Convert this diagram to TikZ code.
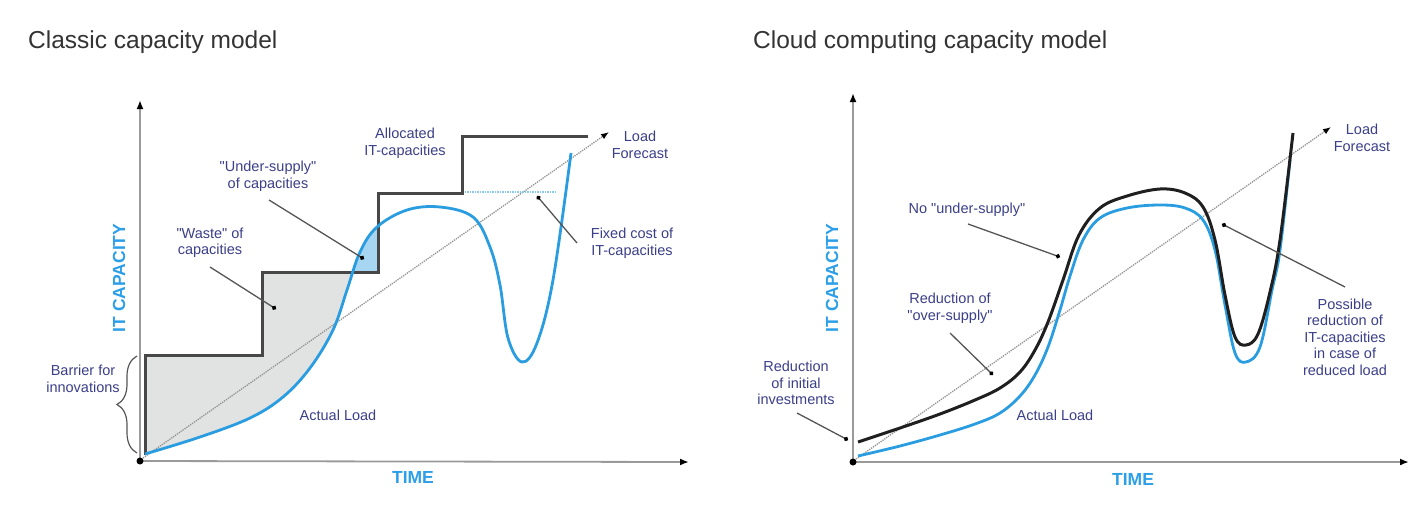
\documentclass[tikz,border=0pt]{standalone}
\usepackage{fontspec}
\setmainfont{Liberation Sans}[Ligatures=TeXOff]
\usetikzlibrary{arrows.meta,decorations.pathreplacing}

\definecolor{ink}{HTML}{3B3F88}
\definecolor{loadblue}{HTML}{2A9DE0}
\definecolor{axisblue}{HTML}{2C9FE8}
\definecolor{wastegray}{HTML}{E1E3E3}
\definecolor{shortblue}{HTML}{A6D6F2}
\definecolor{titlegray}{HTML}{333333}
\definecolor{leadergray}{HTML}{555555}
\definecolor{axisgray}{HTML}{9A9A9A}
\definecolor{stepgray}{HTML}{474747}

% actual load, classic model
\newcommand\loadclassic{plot[smooth,tension=0.6] coordinates {(145,454) (200,437) (250,418) (283,397) (310,368) (333,330) (347,290) (360,252) (377,227) (407,210) (440,207) (473,217) (490,247) (500,285) (508,338) (522,362) (537,343) (553,280) (571,153)}}
% allocated capacity, cloud model
\newcommand\cloudcap{plot[smooth,tension=0.6] coordinates {(858,442) (900,428) (940,414) (975,400) (1000,388) (1020,372) (1035,350) (1048,322) (1063,280) (1079,235) (1100,208) (1127,196) (1160,189) (1185,193) (1203,207) (1215,240) (1225,295) (1235,337) (1246,345) (1258,334) (1270,292) (1280,240) (1293,133)}}
% actual load, cloud model
\newcommand\cloudload{plot[smooth,tension=0.6] coordinates {(858,456) (900,446) (940,435) (975,424) (1000,413) (1020,396) (1035,375) (1048,347) (1060,310) (1070,276) (1083,240) (1100,218) (1127,208) (1160,205) (1185,208) (1203,220) (1215,250) (1225,305) (1235,353) (1246,362) (1260,347) (1272,290) (1280,250) (1290,160)}}

\tikzset{
  lbl/.style={font=\fontsize{14.5}{16.5}\selectfont, text=ink, align=center, inner sep=0pt},
  axlbl/.style={font=\bfseries\fontsize{17.5}{20}\selectfont, text=axisblue, inner sep=0pt},
  charttitle/.style={font=\fontsize{24.5}{28}\selectfont, text=titlegray, anchor=west, inner sep=0pt},
  axisline/.style={draw=axisgray, line width=1.8pt, -{Latex[length=9pt,width=7pt,color=black]}},
  forecast/.style={draw=gray!85, densely dotted, line width=1.3pt, -{Latex[length=8pt,width=6pt,color=black]}},
  leader/.style={draw=leadergray, line width=1.3pt, -{Circle[length=4.5pt,color=black]}},
  capacity/.style={draw=stepgray, line width=3pt, line join=miter},
  loadcurve/.style={draw=loadblue, line width=2.8pt},
  cloudcurve/.style={draw=black!88, line width=3pt},
}

\begin{document}
\begin{tikzpicture}[x=1pt,y=-1pt]
\useasboundingbox (0,0) rectangle (1412,517);

% ---------------- classic capacity model ----------------
\node[charttitle] (t1) at (28,42) {Classic capacity model};

% over-supply area
\begin{scope}
  \clip \loadclassic -- (571,90) -- (140,90) -- (140,454) -- cycle;
  \fill[wastegray] (145,455) -- (145,355) -- (262,355) -- (262,272) -- (378,272) -- (378,460) -- cycle;
\end{scope}
% under-supply area
\begin{scope}
  \clip \loadclassic -- (571,470) -- (140,470) -- cycle;
  \fill[shortblue] (330,272) -- (378,272) -- (378,150) -- (330,150) -- cycle;
\end{scope}

\coordinate (o1) at (140,461);
\coordinate (ytip1) at (140,100);
\coordinate (xtip1) at (689,462);
\coordinate (fs1) at (143,458);
\coordinate (fe1) at (609,132);

\draw[forecast] (fs1) -- (fe1);
\draw[draw=shortblue!80!loadblue, densely dotted, line width=1.5pt] (462,192) -- (555,192);

\draw[capacity] (145,455) -- (145,355) -- (262,355) -- (262,272) -- (378,272) -- (378,193) -- (462,193) -- (462,136) -- (588,136);
\draw[loadcurve] \loadclassic;

\draw[axisline] (o1) -- (ytip1);
\draw[axisline] (o1) -- (xtip1);
\fill (o1) circle (3.5);

\draw[decorate, decoration={brace, amplitude=20pt, aspect=0.5}, draw=leadergray, line width=1.2pt] (137,453) -- (137,356);

\node[lbl] (waste) at (210,243) {"Waste" of\\capacities};
\node[lbl] (under) at (268,176) {"Under-supply"\\of capacities};
\node[lbl] (alloc) at (405,143) {Allocated\\IT-capacities};
\node[lbl] (lf1) at (640,145) {Load\\Forecast};
\node[lbl] (fixed) at (632,243) {Fixed cost of\\IT-capacities};
\node[lbl] (barrier) at (83,379) {Barrier for\\innovations};
\node[lbl] (al1) at (338,415) {Actual Load};
\node[axlbl] (time1) at (413,477) {TIME};
\node[axlbl, rotate=90] (cap1) at (119,278) {IT CAPACITY};

\coordinate (waste-a) at (210,267);
\coordinate (waste-b) at (276,309);
\coordinate (under-a) at (269,200);
\coordinate (under-b) at (364,259);
\coordinate (fixed-a) at (577,243);
\coordinate (fixed-b) at (537,196);
\draw[leader] (waste-a) -- (waste-b);
\draw[leader] (under-a) -- (under-b);
\draw[leader] (fixed-a) -- (fixed-b);

% ---------------- cloud computing capacity model ----------------
\node[charttitle] (t2) at (753,42) {Cloud computing capacity model};

\coordinate (o2) at (853,462);
\coordinate (ytip2) at (853,93);
\coordinate (xtip2) at (1409,462);
\coordinate (fs2) at (856,459);
\coordinate (fe2) at (1331,127);

\draw[forecast] (fs2) -- (fe2);
\draw[loadcurve] \cloudload;
\draw[cloudcurve] \cloudcap;

\draw[axisline] (o2) -- (ytip2);
\draw[axisline] (o2) -- (xtip2);
\fill (o2) circle (3.5);

\node[lbl] (nous) at (967,210) {No "under-supply"};
\node[lbl] (oversup) at (950,308) {Reduction of\\"over-supply"};
\node[lbl] (initial) at (796,383) {Reduction\\of initial\\investments};
\node[lbl] (al2) at (1055,415) {Actual Load};
\node[lbl] (lf2) at (1362,138) {Load\\Forecast};
\node[lbl] (possible) at (1345,337) {Possible\\reduction of\\IT-capacities\\in case of\\reduced load};
\node[axlbl] (time2) at (1133,479) {TIME};
\node[axlbl, rotate=90] (cap2) at (832,278) {IT CAPACITY};

\coordinate (nous-a) at (968,224);
\coordinate (nous-b) at (1060,257);
\coordinate (over-a) at (950,333);
\coordinate (over-b) at (993,375);
\coordinate (init-a) at (797,413);
\coordinate (init-b) at (848,440);
\coordinate (poss-a) at (1345,287);
\coordinate (poss-b) at (1222,224);
\draw[leader] (nous-a) -- (nous-b);
\draw[leader] (over-a) -- (over-b);
\draw[leader] (init-a) -- (init-b);
\draw[leader] (poss-a) -- (poss-b);
\end{tikzpicture}
\end{document}
